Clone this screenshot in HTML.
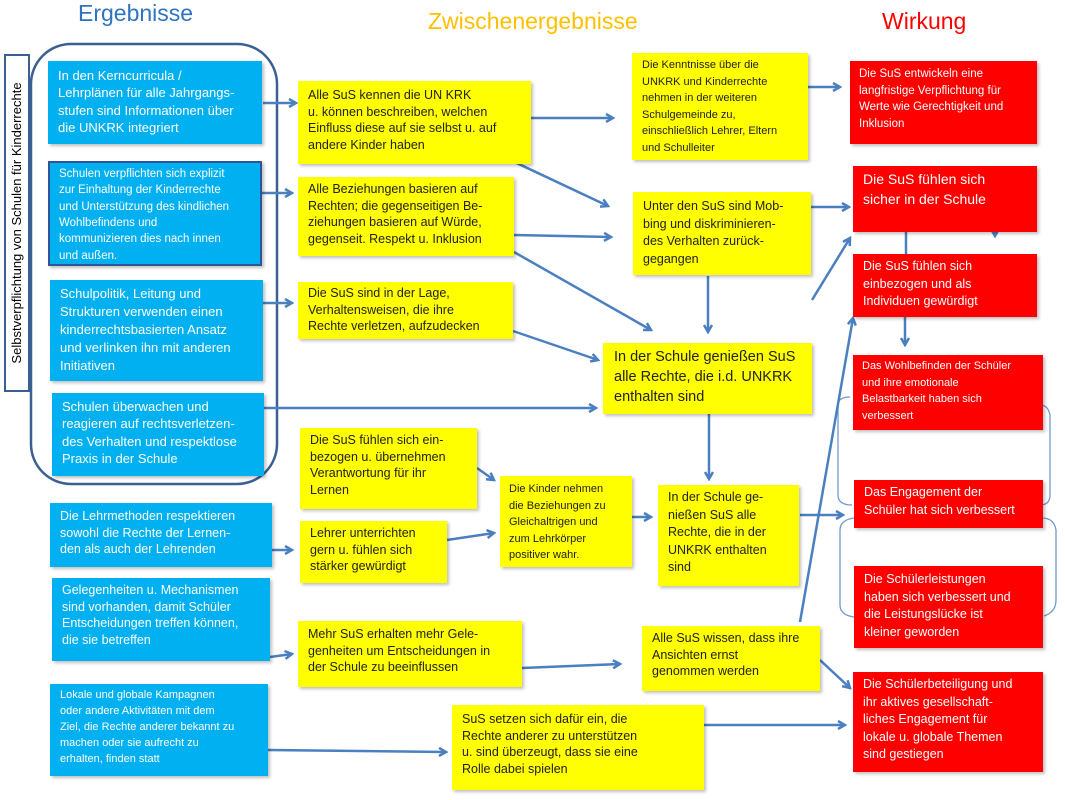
<!DOCTYPE html>
<html><head><meta charset="utf-8"><style>
body{margin:0;width:1065px;height:800px;background:#fff;position:relative;overflow:hidden;font-family:"Liberation Sans",sans-serif;}
.b{position:absolute;box-sizing:border-box;padding:5px 8px;box-shadow:2px 2px 3px rgba(0,0,0,0.25);line-height:1.33;white-space:nowrap;overflow:hidden;}
.bl{background:#00b0f0;color:#fff;}
.ye{background:#ffff00;color:#222;}
.re{background:#ff0000;color:#fff;}
.t{position:absolute;font-size:23px;}
svg{position:absolute;left:0;top:0;}
</style></head><body>
<div class="t" style="left:78px;top:0;color:#2e74c0">Ergebnisse</div>
<div class="t" style="left:428px;top:8px;color:#ffc000">Zwischenergebnisse</div>
<div class="t" style="left:882px;top:8px;color:#ff0000">Wirkung</div>

<svg width="1065" height="800">
<defs><marker id="a" markerWidth="10" markerHeight="10" refX="8" refY="5" orient="auto" markerUnits="userSpaceOnUse"><path d="M1,1 L8,5 L1,9" fill="none" stroke="#4a7fc0" stroke-width="2.5"/></marker></defs>
<rect x="31" y="44" width="246" height="440" rx="40" fill="none" stroke="#3a5f93" stroke-width="2.5"/>
<path d="M838,405 q0,-8 12,-8 M838,405 V495 q0,10 14,10 M1040,405 q8,0 10,10 V495 q0,10 -10,10" fill="none" stroke="#6f9bd0" stroke-width="1.3"/>
<path d="M840,530 q0,-10 14,-12 M840,530 V605 q0,10 14,12 M1042,518 q12,0 14,12 V600 q0,12 -12,16" fill="none" stroke="#6f9bd0" stroke-width="1.3"/>
<g stroke="#4a7fc0" stroke-width="2.5" fill="none" marker-end="url(#a)">
<line x1="263" y1="103" x2="296" y2="103"/>
<line x1="255" y1="193" x2="292" y2="193"/>
<line x1="263" y1="303" x2="292" y2="303"/>
<line x1="264" y1="408" x2="596" y2="408"/>
<line x1="272" y1="550" x2="292" y2="550"/>
<line x1="270" y1="657" x2="292" y2="654"/>
<line x1="268" y1="750" x2="446" y2="752"/>
<line x1="531" y1="118" x2="613" y2="118"/>
<line x1="506" y1="158" x2="608" y2="206"/>
<line x1="514" y1="235" x2="611" y2="237"/>
<line x1="514" y1="252" x2="651" y2="330"/>
<line x1="513" y1="331" x2="598" y2="360"/>
<line x1="708" y1="276" x2="708" y2="332"/>
<line x1="808" y1="87" x2="840" y2="87"/>
<line x1="811" y1="207" x2="849" y2="207"/>
<line x1="812" y1="300" x2="850" y2="238"/>
<line x1="995" y1="205" x2="995" y2="236"/>
<line x1="905" y1="317" x2="905" y2="345"/>
<line x1="709" y1="414" x2="709" y2="479"/>
<line x1="477" y1="468" x2="494" y2="480"/>
<line x1="447" y1="540" x2="494" y2="533"/>
<line x1="632" y1="517" x2="651" y2="517"/>
<line x1="800" y1="515" x2="843" y2="515"/>
<line x1="800" y1="622" x2="853" y2="318"/>
<line x1="522" y1="668" x2="620" y2="664"/>
<line x1="820" y1="660" x2="850" y2="688"/>
<line x1="704" y1="725" x2="845" y2="725"/>
</g>
<line x1="906" y1="232" x2="906" y2="254" stroke="#4a7fc0" stroke-width="2.5"/>
</svg>

<div style="position:absolute;left:4px;top:54px;width:26px;height:338px;box-sizing:border-box;border:2px solid #3a5f93;background:#fff;"></div>
<div style="position:absolute;left:17px;top:223px;width:330px;margin-left:-165px;text-align:center;transform:rotate(-90deg);font-size:13px;line-height:16px;margin-top:-8px;white-space:nowrap;">Selbstverpflichtung von Schulen für Kinderrechte</div>

<div class="b bl" style="left:48px;top:61px;width:214px;height:83px;font-size:13px;padding:6px 10px">In den Kerncurricula /<br>Lehrplänen für alle Jahrgangs-<br>stufen sind Informationen über<br>die UNKRK integriert</div>
<div class="b bl" style="left:48px;top:161px;width:214px;height:105px;font-size:11.5px;border:2px solid #2f5597;padding:3px 9px;line-height:1.42">Schulen verpflichten sich explizit<br>zur Einhaltung der Kinderrechte<br>und Unterstützung des kindlichen<br>Wohlbefindens und<br>kommunizieren dies nach innen<br>und außen.</div>
<div class="b bl" style="left:50px;top:280px;width:213px;height:101px;font-size:13px;padding:5px 10px;line-height:1.38">Schulpolitik, Leitung und<br>Strukturen verwenden einen<br>kinderrechtsbasierten Ansatz<br>und verlinken ihn mit anderen<br>Initiativen</div>
<div class="b bl" style="left:52px;top:393px;width:212px;height:83px;font-size:13px;padding:5px 10px">Schulen überwachen und<br>reagieren auf rechtsverletzen-<br>des  Verhalten und respektlose<br>Praxis  in der Schule</div>
<div class="b bl" style="left:50px;top:503px;width:222px;height:64px;font-size:12.5px;padding:5px 10px">Die Lehrmethoden respektieren<br>sowohl die Rechte der Lernen-<br>den als auch der Lehrenden</div>
<div class="b bl" style="left:52px;top:578px;width:218px;height:83px;font-size:12.5px;padding:4px 10px">Gelegenheiten u. Mechanismen<br>sind vorhanden, damit Schüler<br>Entscheidungen treffen können,<br>die sie betreffen</div>
<div class="b bl" style="left:50px;top:684px;width:218px;height:92px;font-size:11px;padding:4px 10px;line-height:1.45">Lokale und globale Kampagnen<br>oder andere Aktivitäten mit dem<br>Ziel, die Rechte anderer bekannt zu<br>machen oder sie aufrecht zu<br>erhalten, finden statt</div>

<div class="b ye" style="left:298px;top:81px;width:233px;height:83px;font-size:12.5px;padding:6px 10px">Alle SuS kennen die UN KRK<br>u. können beschreiben, welchen<br>Einfluss diese  auf sie  selbst u. auf<br>andere Kinder haben</div>
<div class="b ye" style="left:298px;top:177px;width:216px;height:79px;font-size:12.5px;padding:4px 10px">Alle Beziehungen basieren auf<br>Rechten; die gegenseitigen Be-<br>ziehungen basieren auf Würde,<br>gegenseit. Respekt u. Inklusion</div>
<div class="b ye" style="left:298px;top:282px;width:215px;height:57px;font-size:12.5px;padding:3px 10px">Die SuS sind in der Lage,<br>Verhaltensweisen, die ihre<br>Rechte verletzen, aufzudecken</div>
<div class="b ye" style="left:632px;top:53px;width:176px;height:107px;font-size:11px;padding:4px 10px;line-height:1.5">Die Kenntnisse über die<br>UNKRK und Kinderrechte<br>nehmen in der weiteren<br>Schulgemeinde zu,<br>einschließlich Lehrer, Eltern<br>und Schulleiter</div>
<div class="b ye" style="left:633px;top:192px;width:178px;height:83px;font-size:12.5px;padding:6px 10px;line-height:1.4">Unter den SuS sind Mob-<br>bing und diskriminieren-<br>des Verhalten zurück-<br>gegangen</div>
<div class="b ye" style="left:603px;top:343px;width:209px;height:71px;font-size:14.5px;padding:4px 11px;line-height:1.38">In der Schule genießen SuS<br>alle Rechte, die  i.d. UNKRK<br>enthalten sind</div>
<div class="b ye" style="left:300px;top:428px;width:177px;height:81px;font-size:12.5px;padding:4px 10px">Die SuS fühlen sich ein-<br>bezogen u. übernehmen<br>Verantwortung für ihr<br>Lernen</div>
<div class="b ye" style="left:300px;top:521px;width:147px;height:62px;font-size:12.5px;padding:4px 10px">Lehrer unterrichten<br>gern u. fühlen sich<br>stärker gewürdigt</div>
<div class="b ye" style="left:500px;top:476px;width:132px;height:91px;font-size:11px;padding:5px 9px;line-height:1.5">Die Kinder nehmen<br>die Beziehungen  zu<br>Gleichaltrigen und<br>zum Lehrkörper<br>positiver wahr.</div>
<div class="b ye" style="left:658px;top:485px;width:141px;height:101px;font-size:12.5px;padding:4px 10px;line-height:1.4">In der Schule ge-<br>nießen SuS alle<br>Rechte, die in der<br>UNKRK enthalten<br>sind</div>
<div class="b ye" style="left:298px;top:621px;width:224px;height:66px;font-size:12.5px;padding:5px 10px">Mehr SuS erhalten mehr Gele-<br>genheiten um Entscheidungen in<br>der Schule zu beeinflussen</div>
<div class="b ye" style="left:642px;top:626px;width:178px;height:65px;font-size:12.5px;padding:4px 10px">Alle SuS wissen, dass ihre<br>Ansichten ernst<br>genommen werden</div>
<div class="b ye" style="left:452px;top:705px;width:252px;height:85px;font-size:12.5px;padding:6px 10px">SuS setzen sich dafür ein, die<br>Rechte anderer zu unterstützen<br>u. sind überzeugt, dass sie eine<br>Rolle dabei spielen</div>

<div class="b re" style="left:850px;top:61px;width:187px;height:83px;font-size:11.5px;padding:5px 9px;line-height:1.45">Die SuS entwickeln eine<br>langfristige Verpflichtung für<br>Werte wie Gerechtigkeit und<br>Inklusion</div>
<div class="b re" style="left:853px;top:166px;width:184px;height:66px;font-size:14px;padding:4px 10px;line-height:1.4">Die SuS fühlen sich<br>sicher in der Schule</div>
<div class="b re" style="left:853px;top:254px;width:184px;height:63px;font-size:12.5px;padding:4px 10px;line-height:1.4">Die SuS fühlen sich<br>einbezogen und als<br>Individuen gewürdigt</div>
<div class="b re" style="left:853px;top:355px;width:190px;height:75px;font-size:11px;padding:3px 9px;line-height:1.5">Das Wohlbefinden der Schüler<br>und ihre emotionale<br>Belastbarkeit haben sich<br>verbessert</div>
<div class="b re" style="left:854px;top:480px;width:189px;height:48px;font-size:12.5px;padding:4px 10px;line-height:1.4">Das Engagement der<br>Schüler hat sich verbessert</div>
<div class="b re" style="left:854px;top:566px;width:189px;height:82px;font-size:12.5px;padding:5px 10px;line-height:1.4">Die Schülerleistungen<br>haben sich verbessert und<br>die Leistungslücke ist<br>kleiner geworden</div>
<div class="b re" style="left:853px;top:672px;width:190px;height:100px;font-size:12.5px;padding:4px 10px;line-height:1.4">Die Schülerbeteiligung und<br>ihr aktives gesellschaft-<br>liches Engagement für<br>lokale u. globale Themen<br>sind  gestiegen</div>
</body></html>
